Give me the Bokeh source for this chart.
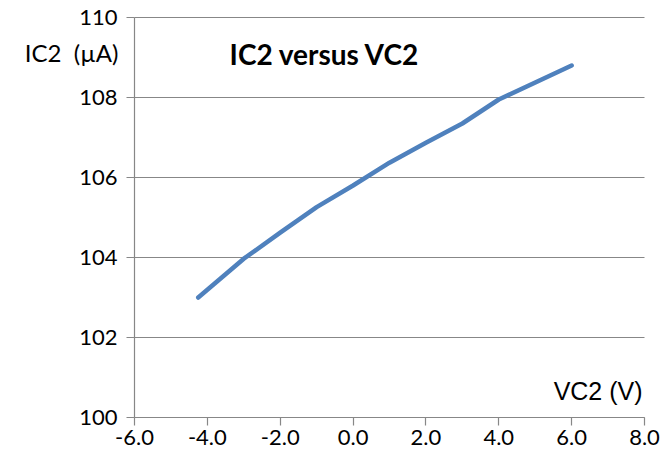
from bokeh.plotting import figure
from bokeh.models import Range1d, FixedTicker, Label, NumeralTickFormatter, LinearAxis
from bokeh.embed import file_html
from bokeh.resources import INLINE

vc2 = [-4.25, -3.0, -2.0, -1.0, 0.0, 1.0, 2.0, 3.0, 4.0, 6.0]
ic2 = [103.0, 103.97, 104.62, 105.26, 105.8, 106.37, 106.87, 107.35, 107.95, 108.8]
x_ticks = [-6, -4, -2, 0, 2, 4, 6, 8]
y_ticks = [100, 102, 104, 106, 108, 110]

FONT = "Lato"
GRAY = "#878787"
X_MIN, X_MAX = x_ticks[0], x_ticks[-1]
Y_MIN, Y_MAX = y_ticks[0], y_ticks[-1]
PX_X = 510 / (X_MAX - X_MIN)
PX_Y = 400 / (Y_MAX - Y_MIN)

p = figure(frame_width=662, frame_height=457, output_backend="svg", toolbar_location=None,
           x_range=Range1d(X_MIN - 134 / PX_X, X_MAX + 18 / PX_X),
           y_range=Range1d(Y_MIN - 40 / PX_Y, Y_MAX + 17 / PX_Y),
           x_axis_location=None, y_axis_location=None, title=None,
           min_border_left=0, min_border_top=0, min_border_right=0, min_border_bottom=0)
p.outline_line_color = None
p.background_fill_color = "white"
p.grid.visible = False

# horizontal gridlines spanning the x axis extent only
p.segment(x0=[X_MIN] * len(y_ticks), x1=[X_MAX] * len(y_ticks), y0=y_ticks, y1=y_ticks,
          line_color=GRAY, line_width=1.2)

yax = LinearAxis(fixed_location=X_MIN, ticker=FixedTicker(ticks=y_ticks), bounds=(Y_MIN, Y_MAX))
xax = LinearAxis(fixed_location=Y_MIN, ticker=FixedTicker(ticks=x_ticks), bounds=(X_MIN, X_MAX),
                 formatter=NumeralTickFormatter(format="0.0"))
p.add_layout(yax, "left")
p.add_layout(xax, "below")
for ax in (xax, yax):
    ax.axis_line_color = GRAY
    ax.axis_line_width = 1.2
    ax.major_tick_line_color = GRAY
    ax.major_tick_line_width = 1.2
    ax.major_tick_in = 0
    ax.major_tick_out = 8
    ax.minor_tick_line_color = None
    ax.major_label_text_font = FONT
    ax.major_label_text_font_size = "22px"
    ax.major_label_text_color = "black"
xax.major_label_standoff = 4
yax.major_label_standoff = 9

p.line(vc2, ic2, line_color="#4F81BD", line_width=4.5, line_cap="round", line_join="round")

p.add_layout(Label(x=-3.39, y=109.1, text="IC2 versus VC2", text_font=FONT, text_font_style="bold",
                   text_font_size="28px", text_baseline="middle", text_align="left", text_color="black"))
p.add_layout(Label(x=-6.44, y=109.125, text="IC2\u00a0\u00a0(\u00b5A)", text_font=FONT,
                   text_font_size="24px", text_baseline="middle", text_align="right", text_color="black"))
p.add_layout(Label(x=7.946, y=100.675, text="VC2 (V)", text_font="Liberation Sans",
                   text_font_size="25px", text_baseline="middle", text_align="right", text_color="black"))

open("out.html", "w").write(file_html(p, INLINE))
